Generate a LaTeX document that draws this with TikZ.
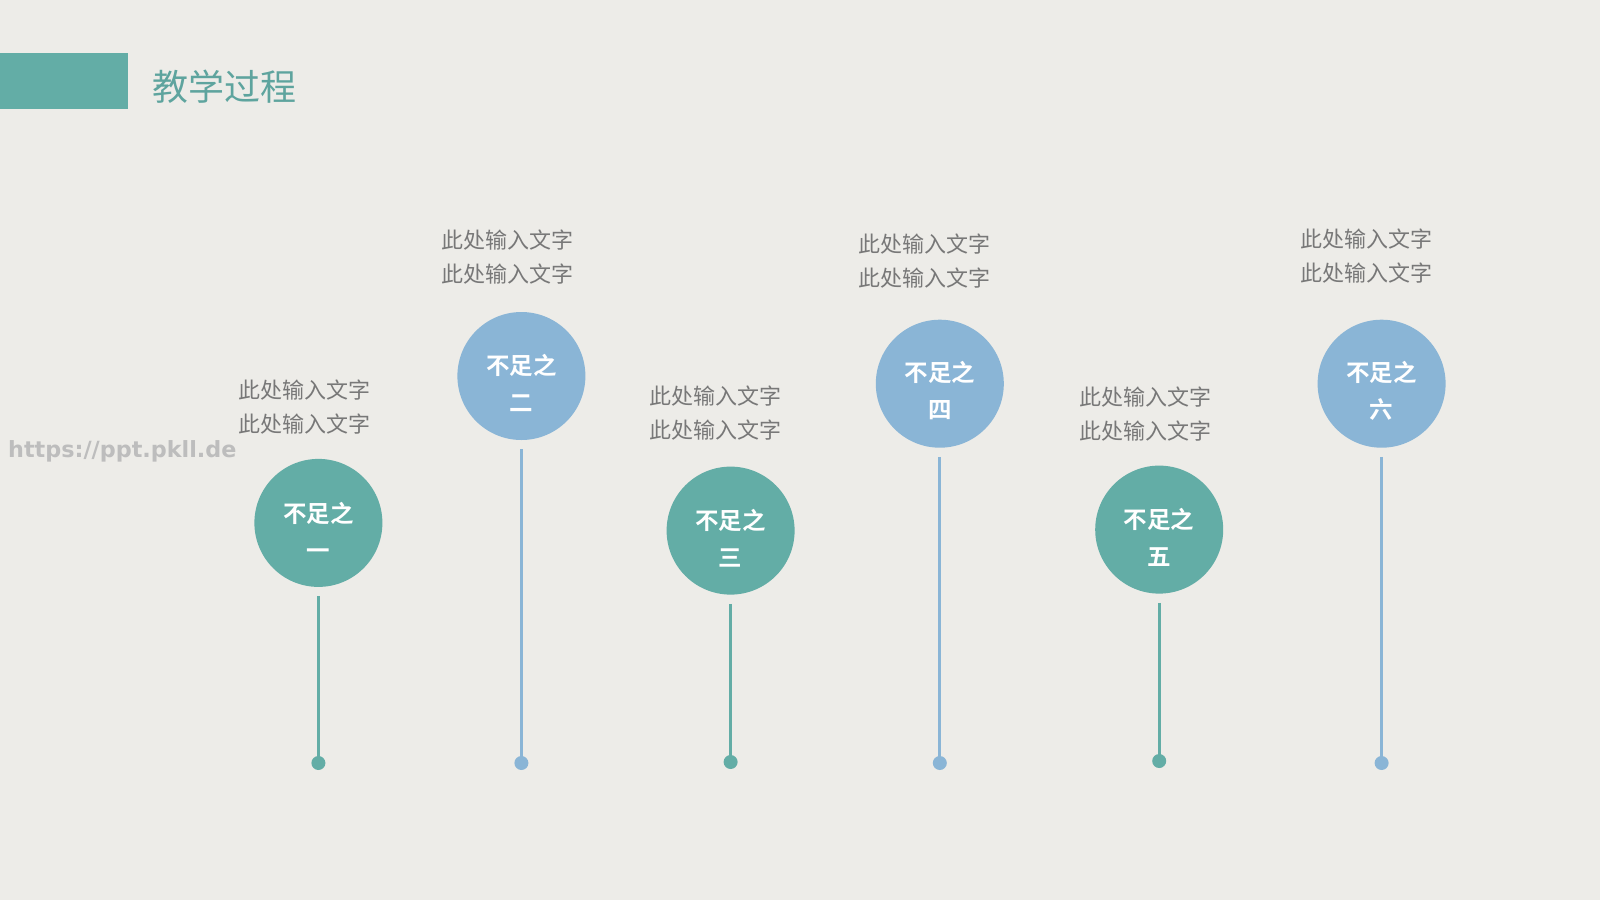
\documentclass[tikz,border=0pt]{standalone}
\usepackage{fontspec}
\newfontfamily\cjk{Noto Sans CJK SC}[BoldFont={Noto Sans CJK SC Bold}]
\newfontfamily\wmfont{DejaVu Sans}
\definecolor{bg}{HTML}{EDECE8}
\definecolor{teal}{HTML}{63ADA6}
\definecolor{sky}{HTML}{8AB5D6}
\definecolor{txt}{HTML}{787878}
\definecolor{wmc}{HTML}{BDBDBD}
\tikzset{
  ball/.style={circle, fill=#1, draw=none, minimum size=128pt, inner sep=0pt},
  balltext/.style={text=white, align=center, font=\cjk\bfseries\fontsize{23.5}{37}\selectfont},
  dot/.style={circle, fill=#1, draw=none, minimum size=14pt, inner sep=0pt},
  stem/.style={draw=#1, line width=3pt, shorten <=9pt},
  note/.style={text=txt, align=center, inner sep=0pt, font=\cjk\fontsize{22}{34.7}\selectfont},
}
\begin{document}
\begin{tikzpicture}[x=1pt, y=-1pt]
\useasboundingbox (0,0) rectangle (1600,900);
\fill[bg] (0,0) rectangle (1600,900);
% header
\node[fill=teal, minimum width=128pt, minimum height=56pt, inner sep=0pt, anchor=north west] (hdr) at (0,53) {};
\node[anchor=west, inner sep=0pt, text=teal!95!black, font=\cjk\fontsize{36}{40}\selectfont] (title) at (152,87) {教学过程};
% watermark
\node[anchor=west, inner sep=0pt, text=wmc, font=\wmfont\bfseries\fontsize{22.3}{26}\selectfont] (wm) at (8,451) {https://ppt.pkll.de};
% circles
\node[ball=teal] (c1) at (318.4,522.9) {};
\node[ball=sky]  (c2) at (521.4,376) {};
\node[ball=teal] (c3) at (730.6,530.6) {};
\node[ball=sky]  (c4) at (939.8,383.7) {};
\node[ball=teal] (c5) at (1159.2,529.6) {};
\node[ball=sky]  (c6) at (1381.6,383.7) {};
\node[balltext] (t1) at (318.4,531) {不足之\\一};
\node[balltext] (t2) at (521.4,383) {不足之\\二};
\node[balltext] (t3) at (730.6,538) {不足之\\三};
\node[balltext] (t4) at (939.8,391) {不足之\\四};
\node[balltext] (t5) at (1159.2,537) {不足之\\五};
\node[balltext] (t6) at (1381.6,391) {不足之\\六};
% dots
\node[dot=teal] (d1) at (318.4,763) {};
\node[dot=sky]  (d2) at (521.4,763) {};
\node[dot=teal] (d3) at (730.6,762) {};
\node[dot=sky]  (d4) at (939.8,763) {};
\node[dot=teal] (d5) at (1159.2,761) {};
\node[dot=sky]  (d6) at (1381.6,763) {};
% stems
\draw[stem=teal] (c1.south) -- (d1.center);
\draw[stem=sky]  (c2.south) -- (d2.center);
\draw[stem=teal] (c3.south) -- (d3.center);
\draw[stem=sky]  (c4.south) -- (d4.center);
\draw[stem=teal] (c5.south) -- (d5.center);
\draw[stem=sky]  (c6.south) -- (d6.center);
% notes
\node[note] (n1) at (304,407) {此处输入文字\\此处输入文字};
\node[note] (n2) at (507,257) {此处输入文字\\此处输入文字};
\node[note] (n3) at (715,413) {此处输入文字\\此处输入文字};
\node[note] (n4) at (924,261) {此处输入文字\\此处输入文字};
\node[note] (n5) at (1145,414) {此处输入文字\\此处输入文字};
\node[note] (n6) at (1366,256) {此处输入文字\\此处输入文字};
\end{tikzpicture}
\end{document}
